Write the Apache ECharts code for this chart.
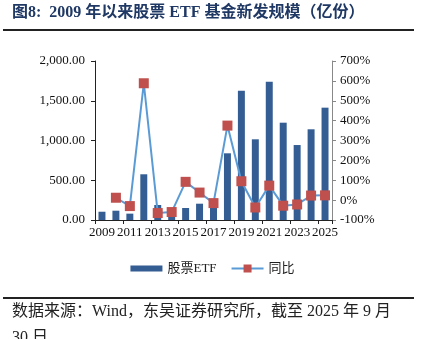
<!DOCTYPE html>
<html>
<head>
<meta charset="utf-8">
<script src="https://cdn.jsdelivr.net/npm/echarts@6/dist/echarts.min.js"></script>
<style>html,body{margin:0;padding:0;background:#fff}#c{width:425px;height:339px}</style>
</head>
<body>
<div id="c"></div>
<script>
var years = ['2009','2010','2011','2012','2013','2014','2015','2016','2017','2018','2019','2020','2021','2022','2023','2024','2025'];
var etfScale = [104, 117, 80, 575, 189, 90, 151, 205, 230, 839, 1625, 1015, 1740, 1224, 943, 1141, 1413];
var yoyPct = [null, 12, -30, 588, -65, -60, 92, 38, -15, 375, 95, -37, 73, -28, -22, 23, 24];
var leftTicks = {min: 0, max: 2000, interval: 500};
var rightTicks = {min: -100, max: 700, interval: 100};
var titleText = '图8:  2009 年以来股票 ETF 基金新发规模（亿份）';
var sourceLine1 = '数据来源：Wind，东吴证券研究所，截至 2025 年 9 月';
var sourceLine2 = '30 日';

var serif = '"Liberation Serif","Noto Sans CJK SC",serif';
var chart = echarts.init(document.getElementById('c'));
chart.setOption({
  animation: false,
  grid: {left: 95, right: 93, top: 61, bottom: 119},
  legend: {
    top: 257, left: 'center', itemGap: 14, itemWidth: 32, itemHeight: 10,
    textStyle: {fontFamily: serif, fontSize: 13, color: '#222'},
    data: [{name: '股票ETF', icon: 'path://M0,0 h32 v6 h-32 Z'}, {name: '同比'}]
  },
  xAxis: {
    type: 'category', data: years, boundaryGap: true,
    axisLine: {lineStyle: {color: '#222', width: 1}},
    axisTick: {show: true, interval: 1, length: 4, lineStyle: {color: '#222'}},
    axisLabel: {interval: 1, fontFamily: serif, fontSize: 13, color: '#111', margin: 6}
  },
  yAxis: [{
    type: 'value', min: leftTicks.min, max: leftTicks.max, interval: leftTicks.interval,
    splitLine: {show: false},
    axisLine: {show: true, lineStyle: {color: '#222'}},
    axisTick: {show: true, length: 4, lineStyle: {color: '#222'}},
    axisLabel: {fontFamily: serif, fontSize: 13, color: '#111', margin: 10,
      formatter: function (v) { return v.toLocaleString('en-US', {minimumFractionDigits: 2, maximumFractionDigits: 2}); }}
  }, {
    type: 'value', min: rightTicks.min, max: rightTicks.max, interval: rightTicks.interval,
    splitLine: {show: false},
    axisLine: {show: true, lineStyle: {color: '#888'}},
    axisTick: {show: true, length: 4, lineStyle: {color: '#888'}},
    axisLabel: {fontFamily: serif, fontSize: 13, color: '#111', margin: 8,
      formatter: function (v) { return v + '%'; }}
  }],
  series: [{
    name: '股票ETF', type: 'bar', data: etfScale, barWidth: '50%',
    itemStyle: {color: '#345D93'}
  }, {
    name: '同比', type: 'line', yAxisIndex: 1, data: yoyPct,
    symbol: 'rect', symbolSize: 10, showAllSymbol: true,
    lineStyle: {color: '#5B9BD5', width: 2},
    itemStyle: {color: '#C0504D'}
  }],
  graphic: [
    {type: 'text', left: 12, top: 5, style: {text: titleText, font: 'bold 16px "Liberation Serif","Noto Sans CJK SC",serif', fill: '#1F3864'}},
    {type: 'rect', shape: {x: 3, y: 29, width: 411, height: 2}, style: {fill: '#222'}},
    {type: 'rect', shape: {x: 3, y: 297, width: 411, height: 2}, style: {fill: '#222'}},
    {type: 'text', left: 12, top: 304, style: {text: sourceLine1, font: '16px "Liberation Serif","Noto Sans CJK SC",serif', fill: '#222'}},
    {type: 'text', left: 12, top: 330, style: {text: sourceLine2, font: '16px "Liberation Serif","Noto Sans CJK SC",serif', fill: '#222'}}
  ]
});
</script>
</body>
</html>
